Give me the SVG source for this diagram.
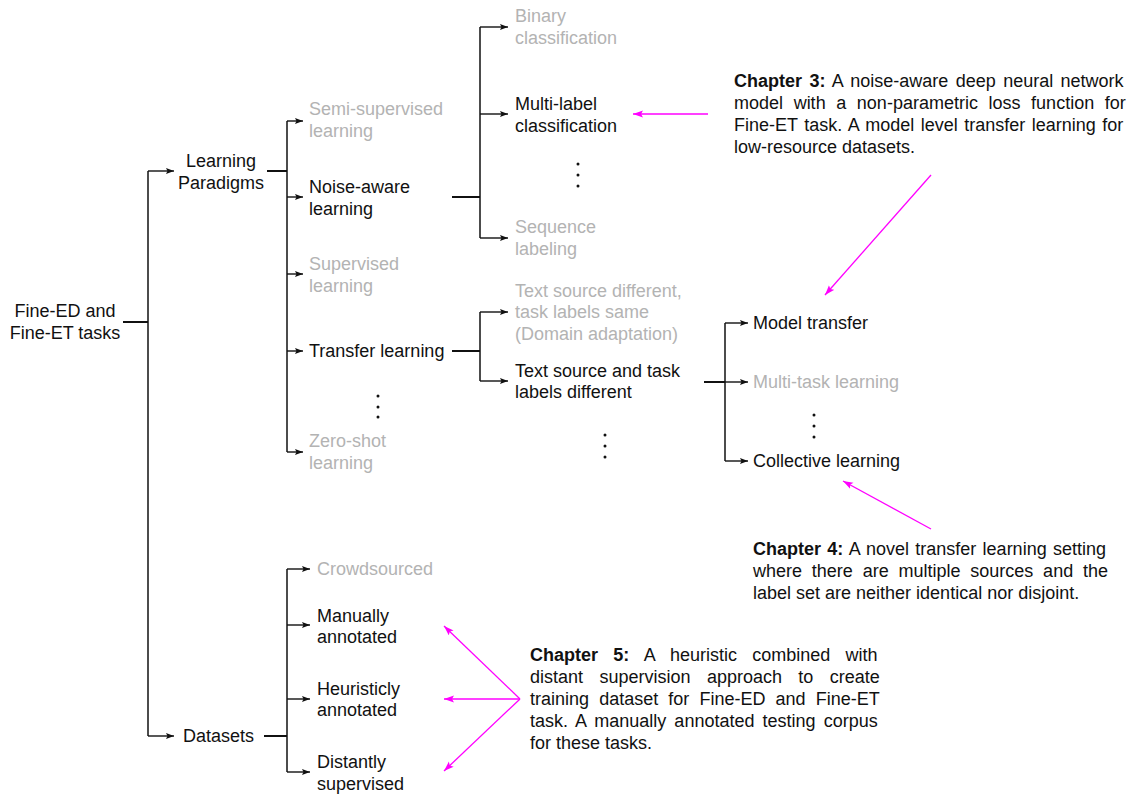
<svg xmlns="http://www.w3.org/2000/svg" width="1133" height="795" viewBox="0 0 1133 795">
<style>
text{font-family:"Liberation Sans",Arial,sans-serif;font-size:18px;fill:#111}
.g{fill:#b3b3b3}
.b{font-weight:bold}
.ln{stroke:#111;stroke-width:1.5;fill:none}
.st{stroke:#111;stroke-width:2;fill:none}
.ar{stroke:#111;stroke-width:1.4;fill:none;marker-end:url(#ah)}
.mg{stroke:#ff00ff;stroke-width:1.3;fill:none;marker-end:url(#mh)}
.dot{fill:#111}
</style>
<defs>
<marker id="ah" markerUnits="userSpaceOnUse" markerWidth="9" markerHeight="7" refX="8" refY="3" orient="auto">
<path d="M0,0 L8,3 L0,6 L1.5,3 z" fill="#111"/>
</marker>
<marker id="mh" markerUnits="userSpaceOnUse" markerWidth="11" markerHeight="8" refX="10" refY="3.5" orient="auto">
<path d="M0,0 L10,3.5 L0,7 L2,3.5 z" fill="#ff00ff"/>
</marker>
</defs>

<g id="connectors">
<line class="st" x1="123" y1="322" x2="148" y2="322"/>
<line class="ln" x1="148" y1="171" x2="148" y2="736"/>
<line class="ar" x1="148" y1="171" x2="174" y2="171"/>
<line class="ar" x1="148" y1="736" x2="174" y2="736"/>

<line class="st" x1="267" y1="171" x2="287" y2="171"/>
<line class="ln" x1="287" y1="121" x2="287" y2="452"/>
<line class="ar" x1="287" y1="121" x2="303" y2="121"/>
<line class="ar" x1="287" y1="197" x2="303" y2="197"/>
<line class="ar" x1="287" y1="274" x2="303" y2="274"/>
<line class="ar" x1="287" y1="351" x2="303" y2="351"/>
<line class="ar" x1="287" y1="452" x2="303" y2="452"/>

<line class="st" x1="452" y1="197" x2="480" y2="197"/>
<line class="ln" x1="480" y1="27" x2="480" y2="238"/>
<line class="ar" x1="480" y1="27" x2="508" y2="27"/>
<line class="ar" x1="480" y1="114" x2="508" y2="114"/>
<line class="ar" x1="480" y1="238" x2="508" y2="238"/>

<line class="st" x1="452" y1="351" x2="480" y2="351"/>
<line class="ln" x1="480" y1="312" x2="480" y2="381"/>
<line class="ar" x1="480" y1="312" x2="508" y2="312"/>
<line class="ar" x1="480" y1="381" x2="508" y2="381"/>

<line class="st" x1="704" y1="382" x2="725" y2="382"/>
<line class="ln" x1="725" y1="323" x2="725" y2="461"/>
<line class="ar" x1="725" y1="323" x2="748" y2="323"/>
<line class="ar" x1="725" y1="382" x2="748" y2="382"/>
<line class="ar" x1="725" y1="461" x2="748" y2="461"/>

<line class="st" x1="264" y1="736" x2="287" y2="736"/>
<line class="ln" x1="287" y1="569" x2="287" y2="772"/>
<line class="ar" x1="287" y1="569" x2="310" y2="569"/>
<line class="ar" x1="287" y1="625" x2="310" y2="625"/>
<line class="ar" x1="287" y1="699" x2="310" y2="699"/>
<line class="ar" x1="287" y1="772" x2="310" y2="772"/>

<line class="mg" x1="708" y1="114" x2="633" y2="114"/>
<line class="mg" x1="931" y1="175" x2="825" y2="295"/>
<line class="mg" x1="931" y1="529" x2="843" y2="481"/>
<line class="mg" x1="520" y1="699" x2="444" y2="626"/>
<line class="mg" x1="520" y1="699" x2="444" y2="699"/>
<line class="mg" x1="520" y1="699" x2="444" y2="771"/>
</g>

<g id="root"><text x="65" y="317" text-anchor="middle">Fine-ED and</text><text x="65" y="339" text-anchor="middle">Fine-ET tasks</text></g>
<g id="learning-paradigms"><text x="221" y="167" text-anchor="middle">Learning</text><text x="221" y="189" text-anchor="middle">Paradigms</text></g>
<g id="semi-supervised"><text class="g" x="309" y="115">Semi-supervised</text><text class="g" x="309" y="137">learning</text></g>
<g id="noise-aware"><text x="309" y="193">Noise-aware</text><text x="309" y="215">learning</text></g>
<g id="supervised"><text class="g" x="309" y="270">Supervised</text><text class="g" x="309" y="292">learning</text></g>
<g id="transfer-learning"><text x="309" y="357">Transfer learning</text></g>
<g id="ellipsis-1"><circle class="dot" cx="378" cy="396" r="1.5"/><circle class="dot" cx="378" cy="407" r="1.5"/><circle class="dot" cx="378" cy="417" r="1.5"/></g>
<g id="zero-shot"><text class="g" x="309" y="447">Zero-shot</text><text class="g" x="309" y="469">learning</text></g>

<g id="binary"><text class="g" x="515" y="22">Binary</text><text class="g" x="515" y="44">classification</text></g>
<g id="multi-label"><text x="515" y="110">Multi-label</text><text x="515" y="132">classification</text></g>
<g id="ellipsis-2"><circle class="dot" cx="578" cy="164" r="1.5"/><circle class="dot" cx="578" cy="175" r="1.5"/><circle class="dot" cx="578" cy="186" r="1.5"/></g>
<g id="sequence"><text class="g" x="515" y="233">Sequence</text><text class="g" x="515" y="255">labeling</text></g>

<g id="domain-adaptation"><text class="g" x="515" y="297">Text source different,</text><text class="g" x="515" y="318">task labels same</text><text class="g" x="515" y="340">(Domain adaptation)</text></g>
<g id="text-source-task"><text x="515" y="377">Text source and task</text><text x="515" y="398">labels different</text></g>
<g id="ellipsis-3"><circle class="dot" cx="605" cy="435" r="1.5"/><circle class="dot" cx="605" cy="446" r="1.5"/><circle class="dot" cx="605" cy="457" r="1.5"/></g>

<g id="model-transfer"><text x="753" y="329">Model transfer</text></g>
<g id="multi-task"><text class="g" x="753" y="388">Multi-task learning</text></g>
<g id="ellipsis-4"><circle class="dot" cx="814" cy="415" r="1.5"/><circle class="dot" cx="814" cy="426" r="1.5"/><circle class="dot" cx="814" cy="437" r="1.5"/></g>
<g id="collective"><text x="753" y="467">Collective learning</text></g>

<g id="datasets"><text x="183" y="742">Datasets</text></g>
<g id="crowdsourced"><text class="g" x="317" y="575">Crowdsourced</text></g>
<g id="manually"><text x="317" y="622">Manually</text><text x="317" y="643">annotated</text></g>
<g id="heuristicly"><text x="317" y="695">Heuristicly</text><text x="317" y="716">annotated</text></g>
<g id="distantly"><text x="317" y="768">Distantly</text><text x="317" y="790">supervised</text></g>

<g id="chapter3">
<text x="734" y="87" word-spacing="2.4"><tspan class="b">Chapter 3:</tspan> A noise-aware deep neural network</text>
<text x="734" y="109" word-spacing="5.6">model with a non-parametric loss function for</text>
<text x="734" y="131" word-spacing="1.5">Fine-ET task. A model level transfer learning for</text>
<text x="734" y="153">low-resource datasets.</text>
</g>
<g id="chapter4">
<text x="753" y="555" word-spacing="1.3"><tspan class="b">Chapter 4:</tspan> A novel transfer learning setting</text>
<text x="753" y="577" word-spacing="4.8">where there are multiple sources and the</text>
<text x="753" y="599">label set are neither identical nor disjoint.</text>
</g>
<g id="chapter5">
<text x="530" y="661" word-spacing="10.3"><tspan class="b">Chapter 5:</tspan> A heuristic combined with</text>
<text x="530" y="683" word-spacing="11.4">distant supervision approach to create</text>
<text x="530" y="705" word-spacing="5.1">training dataset for Fine-ED and Fine-ET</text>
<text x="530" y="727" word-spacing="3.1">task. A manually annotated testing corpus</text>
<text x="530" y="749">for these tasks.</text>
</g>
</svg>
